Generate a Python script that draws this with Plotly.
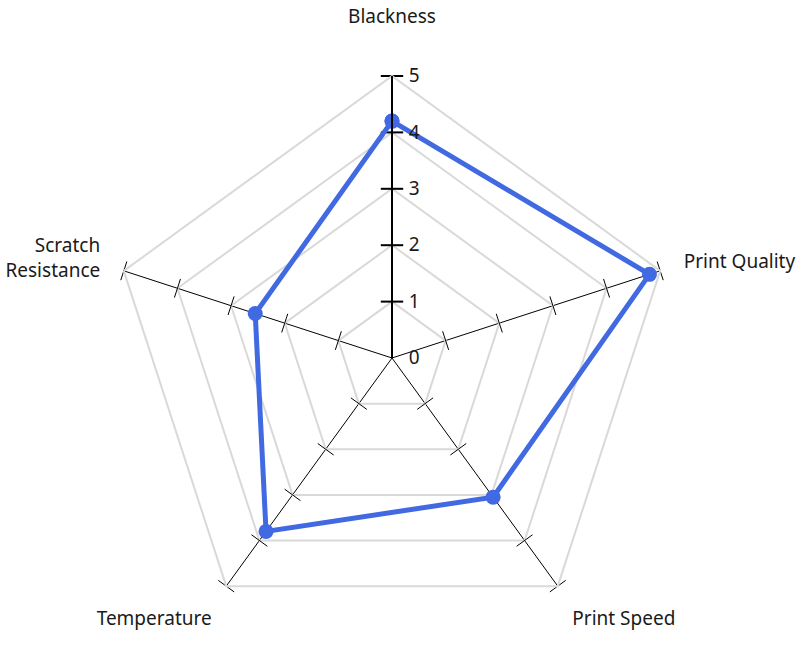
import plotly.graph_objects as go

categories = ["Blackness", "Print Quality", "Print Speed", "Temperature", "Scratch Resistance"]
axis_labels = ["Blackness<br> ", "Print Quality", "Print Speed", "Temperature", "Scratch<br>Resistance"]
values = [4.2, 4.8, 3.05, 3.8, 2.55]
radial_ticks = [0, 1, 2, 3, 4, 5]

FONT = "Noto Sans"
fig = go.Figure()

# tick marks crossing each spoke
for i, cat in enumerate(categories):
    main = (i == 0)
    fig.add_trace(go.Scatterpolar(
        r=radial_ticks, theta=[cat] * len(radial_ticks), mode="markers",
        marker=dict(symbol="line-ew", size=16 if main else 14, angle=72 * i,
                    line=dict(color="black", width=2 if main else 1)),
        hoverinfo="skip", showlegend=False))

fig.add_trace(go.Scatterpolar(
    r=values + values[:1], theta=categories + categories[:1],
    mode="lines+markers",
    line=dict(color="royalblue", width=5),
    marker=dict(size=15, color="royalblue"),
    showlegend=False, hoverinfo="skip"))

fig.update_layout(
    width=802, height=651,
    margin=dict(l=0, r=18, t=76, b=11),
    paper_bgcolor="white", plot_bgcolor="white",
    font=dict(family=FONT, size=19, color="#1a1a1a"),
    polar=dict(
        bgcolor="white",
        gridshape="linear",
        radialaxis=dict(range=[0, 5], tickvals=radial_ticks, showline=True,
                        linecolor="black", linewidth=2, gridcolor="#d9d9d9",
                        gridwidth=2, ticks="outside", ticklen=12,
                        tickcolor="rgba(0,0,0,0)", angle=90, tickangle=90,
                        tickfont=dict(size=19, color="#1a1a1a")),
        angularaxis=dict(rotation=90, direction="clockwise",
                         tickvals=categories, ticktext=axis_labels,
                         showgrid=True, gridcolor="black", gridwidth=1,
                         showline=True, linecolor="#d9d9d9", linewidth=2,
                         ticks="outside", ticklen=20, tickcolor="rgba(0,0,0,0)",
                         tickfont=dict(size=19, color="#1a1a1a")),
    ),
)

fig.write_html("out.html", config={"displayModeBar": False},
               post_script="document.body.style.margin='0';")
